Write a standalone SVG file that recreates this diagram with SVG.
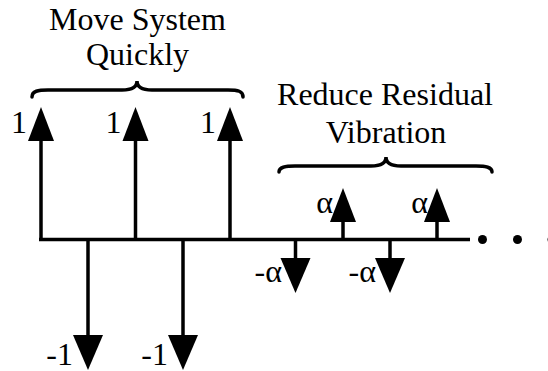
<svg xmlns="http://www.w3.org/2000/svg" width="548" height="371" viewBox="0 0 548 371">
<style>
  .ln{stroke:#000;stroke-width:3.5;fill:none}
  .br{stroke:#000;stroke-width:3.5;fill:none;stroke-linecap:round}
  .lb{text-anchor:end}
  .ti{text-anchor:middle}
</style>
<defs>
  <polygon id="up" points="0,0 13,34 -13,34"/>
  <polygon id="dn" points="0,0 15,-35 -15,-35"/>
</defs>
<g id="titles" font-family="Liberation Serif, DejaVu Serif, serif" font-size="32" fill="#000">
  <text class="ti" x="137.5" y="30">Move System</text>
  <text class="ti" x="137.5" y="65">Quickly</text>
  <text class="ti" x="385" y="105">Reduce Residual</text>
  <text class="ti" x="386" y="143">Vibration</text>
</g>
<g id="braces">
  <path class="br" d="M32,97 C32,91 38,90 48,90 L122,90 C132,90 137,87 137,81 C137,87 142,90 152,90 L228,90 C238,90 243,91 243,97"/>
  <path class="br" d="M279,172 C279,167 285,166 295,166 L371,166 C381,166 386,163 386,157 C386,163 391,166 401,166 L476,166 C486,166 492,167 492,172"/>
</g>
<g id="connectors">
  <line class="ln" x1="39" y1="239.5" x2="470" y2="239.5"/>
  <line class="ln" x1="41" y1="241" x2="41" y2="138"/>
  <line class="ln" x1="135.5" y1="241" x2="135.5" y2="138"/>
  <line class="ln" x1="230" y1="241" x2="230" y2="138"/>
  <line class="ln" x1="88" y1="239" x2="88" y2="338"/>
  <line class="ln" x1="183" y1="239" x2="183" y2="338"/>
  <line class="ln" x1="295.5" y1="239" x2="295.5" y2="261"/>
  <line class="ln" x1="390" y1="239" x2="390" y2="261"/>
  <line class="ln" x1="343" y1="239" x2="343" y2="219"/>
  <line class="ln" x1="437" y1="239" x2="437" y2="219"/>
</g>
<g id="arrowheads">
  <use href="#up" x="41" y="107"/>
  <use href="#up" x="135.5" y="107"/>
  <use href="#up" x="230" y="107"/>
  <use href="#up" x="343" y="188"/>
  <use href="#up" x="437" y="188"/>
  <use href="#dn" x="88" y="370"/>
  <use href="#dn" x="183" y="370"/>
  <use href="#dn" x="295.5" y="293"/>
  <use href="#dn" x="390" y="293"/>
</g>
<g id="labels" font-family="Liberation Serif, DejaVu Serif, serif" font-size="32" fill="#000">
  <text class="lb" x="27" y="133">1</text>
  <text class="lb" x="121.5" y="133">1</text>
  <text class="lb" x="216" y="133">1</text>
  <text class="lb" x="73" y="365">-1</text>
  <text class="lb" x="168" y="365">-1</text>
  <text class="lb" x="333" y="213">α</text>
  <text class="lb" x="428" y="213">α</text>
  <text class="lb" x="282" y="282">-α</text>
  <text class="lb" x="376" y="282">-α</text>
</g>
<g id="dots">
  <circle cx="482.5" cy="239.5" r="4.5"/>
  <circle cx="517.5" cy="239.5" r="4.5"/>
  <circle cx="552" cy="239.5" r="4.5"/>
</g>
</svg>
